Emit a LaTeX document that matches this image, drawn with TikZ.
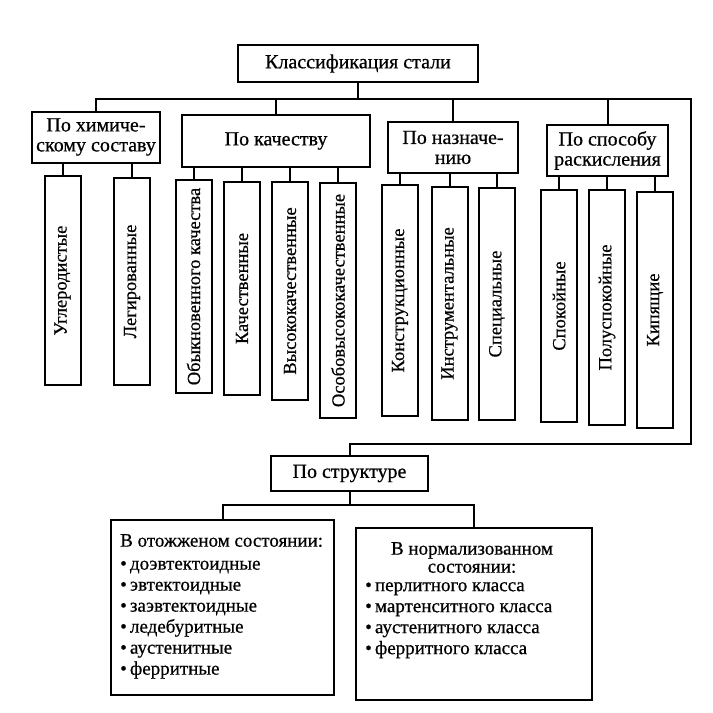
\documentclass[tikz,border=0pt]{standalone}
\usepackage{fontspec}
\setmainfont[FakeBold=0.6]{Liberation Serif}
\tikzstyle{box} = [draw=black, line width=2pt, rectangle, inner sep=2pt, align=center, font={\fontsize{20}{20}\selectfont}]
\tikzstyle{vbox} = [box, minimum width=36pt, font={\fontsize{18.5}{20}\selectfont}]
\tikzstyle{link} = [line width=2pt]
\tikzstyle{list} = [align=left, inner sep=0pt, font={\fontsize{19}{21}\selectfont}]

\begin{document}
\begin{tikzpicture}[x=1pt,y=-1pt]
  \useasboundingbox (0,0) rectangle (713,713);
  \node[box,minimum width=240pt,minimum height=37pt](top) at (358,63.5){Классификация стали};
  \node[box,minimum width=128pt,minimum height=51pt](chem) at (96,137){По химиче-\\скому составу};
  \node[box,minimum width=188pt,minimum height=52pt](qual) at (276,141){По качеству};
  \node[box,minimum width=130pt,minimum height=51pt](purp) at (453,147.5){По назначе-\\нию};
  \node[box,minimum width=121pt,minimum height=51pt](deox) at (607.5,150.5){По способу\\раскисления};
  \node[vbox,minimum height=209pt](c1) at (62.5,280.5){\rotatebox{90}{Углеродистые}};
  \node[vbox,minimum height=207pt](c2) at (132,281.5){\rotatebox{90}{Легированные}};
  \node[vbox,minimum height=213pt](q1) at (193.5,286.5){\rotatebox{90}{Обыкновенного качества}};
  \node[vbox,minimum height=213pt](q2) at (242,288.5){\rotatebox{90}{Качественные}};
  \node[vbox,minimum height=218pt](q3) at (290,291){\rotatebox{90}{Высококачественные}};
  \node[vbox,minimum height=235pt](q4) at (338,300.5){\rotatebox{90}{Особовысококачественные}};
  \node[vbox,minimum height=231pt](p1) at (400,300.5){\rotatebox{90}{Конструкционные}};
  \node[vbox,minimum height=233pt](p2) at (449.5,303.5){\rotatebox{90}{Инструментальные}};
  \node[vbox,minimum height=232pt](p3) at (497,304){\rotatebox{90}{Специальные}};
  \node[vbox,minimum height=232pt](d1) at (559,306){\rotatebox{90}{Спокойные}};
  \node[vbox,minimum height=235pt](d2) at (607,307.5){\rotatebox{90}{Полуспокойные}};
  \node[vbox,minimum height=236pt](d3) at (655,310){\rotatebox{90}{Кипящие}};
  \node[box,minimum width=157pt,minimum height=35pt](struct) at (349.5,473.5){По структуре};
  \node[box,minimum width=223pt,minimum height=175pt](ann) at (222.5,607.5){};
  \node[box,minimum width=236pt,minimum height=172pt](norm) at (474,614){};
  \node[list,anchor=north west](annlist) at (120,534){В отожженом состоянии:\\[2pt]
    \textbullet\,доэвтектоидные\\ \textbullet\,эвтектоидные\\ \textbullet\,заэвтектоидные\\
    \textbullet\,ледебуритные\\ \textbullet\,аустенитные\\ \textbullet\,ферритные};
  \node[list,align=center,anchor=north,font={\fontsize{19}{18}\selectfont}](normhead) at (472,542){В нормализованном\\состоянии:};
  \node[list,anchor=north west](normlist) at (365,582){\textbullet\,перлитного класса\\
    \textbullet\,мартенситного класса\\ \textbullet\,аустенитного класса\\ \textbullet\,ферритного класса};
  % main bus
  \coordinate (bus) at (0,99);
  \coordinate (rt) at (691,99);
  \coordinate (rb) at (691,444);
  \draw[link](top.south)--(top.south |- bus);
  \draw[link](chem.north)|-(rt)--(rb)-|(struct.north);
  \foreach \n in {qual,purp,deox}
    \draw[link](\n.north)--(\n.north |- bus);
  \foreach \p/\c in {chem/c1,chem/c2,qual/q1,qual/q2,qual/q3,qual/q4,purp/p1,purp/p2,purp/p3,deox/d1,deox/d2,deox/d3}
    \draw[link](\c.north)--(\c.north |- \p.south);
  % structure
  \coordinate (sbus) at (0,505);
  \draw[link](struct.south)--(struct.south |- sbus);
  \draw[link](ann.north)|-(sbus -| norm.north)--(norm.north);
\end{tikzpicture}
\end{document}
